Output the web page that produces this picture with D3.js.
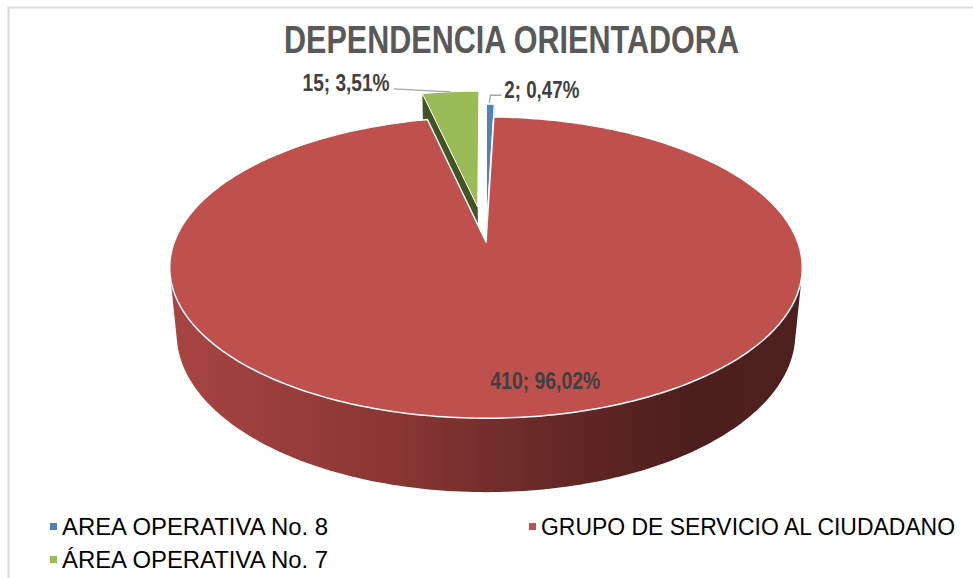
<!DOCTYPE html>
<html lang="es">
<head>
<meta charset="UTF-8">
<title>Dependencia orientadora</title>
<script src="https://d3js.org/d3.v7.min.js"></script>
<style>
  body { margin: 0; background: #fff; }
  text { font-family: "Liberation Sans Narrow", "Arial Narrow", "Liberation Sans", sans-serif; }
</style>
</head>
<body>
<svg id="chart" width="973" height="578"></svg>
<script>
  // data
  const categories = ["AREA OPERATIVA No. 8", "GRUPO DE SERVICIO AL CIUDADANO", "ÁREA OPERATIVA No. 7"];
  const values = [2, 410, 15];
  const colors = ["#4F81BD", "#C0504D", "#9BBB59"];
  const wallColors = ["#2d4f78", "#7a2e2d", "#435323"];
  const explode = [0.12, 0, 0.25];

  const svg = d3.select('#chart');

  // frame
  svg.append('rect')
    .attr('x', 8.5).attr('y', 7.5)
    .attr('width', 1100).attr('height', 1100)
    .attr('fill', 'none')
    .attr('stroke', '#d9d9d9')
    .attr('stroke-width', 2);

  svg.append('text')
    .attr('x', 284).attr('y', 53)
    .attr('textLength', 455).attr('lengthAdjust', 'spacingAndGlyphs')
    .style('font-size', '39px').style('font-weight', 'bold')
    .attr('fill', '#595959')
    .text('DEPENDENCIA ORIENTADORA');

  // perspective camera for the 3d pie
  const cx = 486, cy = 242;
  const focal = 1624, dist = 5.21, depth = 0.243;
  const tilt = 28 * Math.PI / 180;
  const s = Math.sin(tilt), c = Math.cos(tilt);

  function project(X, Z, Y) {
    const yc = Z * s + Y * c;
    const dc = dist + Z * c - Y * s;
    return [cx + focal * X / dc, cy - focal * yc / dc];
  }

  const pie = d3.pie().sort(null).value(d => d);
  const arcs = pie(values);
  const total = d3.sum(values);
  const pct = d3.format('.2%');

  function offsetOf(i) {
    const a = arcs[i];
    const mid = (a.startAngle + a.endAngle) / 2;
    return [explode[i] * Math.sin(mid), explode[i] * Math.cos(mid)];
  }
  function pt(i, ang, r, Y) {
    const o = offsetOf(i);
    return project(o[0] + r * Math.sin(ang), o[1] + r * Math.cos(ang), Y);
  }
  function arcPoints(i, a0, a1, Y) {
    const n = Math.max(2, Math.ceil(Math.abs(a1 - a0) / (Math.PI / 180)));
    return d3.range(n + 1).map(k => pt(i, a0 + (a1 - a0) * k / n, 1, Y));
  }
  const line = d3.line();

  const defs = svg.append('defs');
  const grad = defs.append('linearGradient')
    .attr('id', 'sideGrad')
    .attr('gradientUnits', 'userSpaceOnUse')
    .attr('x1', 170).attr('x2', 802).attr('y1', 0).attr('y2', 0);
  [[0, '#a84543'], [0.35, '#8a3634'], [0.6, '#672927'], [0.82, '#4c1e1e'], [1, '#4f2020']]
    .forEach(st => grad.append('stop').attr('offset', st[0]).attr('stop-color', st[1]));

  const g = svg.append('g');

  // back slices first (blue and green), red last
  [2, 0].forEach(i => {
    const a = arcs[i];
    // visible radial wall
    const wallAng = i === 2 ? a.startAngle : a.endAngle;
    const wall = [pt(i, 0, 0, 0), pt(i, wallAng, 1, 0), pt(i, wallAng, 1, -depth), pt(i, 0, 0, -depth)];
    g.append('path')
      .attr('d', line(wall) + 'Z')
      .attr('fill', wallColors[i]);
    const top = [pt(i, 0, 0, 0)].concat(arcPoints(i, a.startAngle, a.endAngle, 0));
    g.append('path')
      .attr('d', line(top) + 'Z')
      .attr('fill', colors[i])
      .attr('stroke', '#fff').attr('stroke-width', 1);
  });

  // red slice: outer side (front half) then top
  const red = arcs[1];
  const front0 = Math.max(red.startAngle, Math.PI / 2);
  const front1 = Math.min(red.endAngle, Math.PI * 1.5);
  const sidePts = arcPoints(1, front0, front1, 0).concat(arcPoints(1, front0, front1, -depth));
  const hull = d3.polygonHull(sidePts);
  g.append('path')
    .attr('d', line(hull) + 'Z')
    .attr('fill', 'url(#sideGrad)');

  const redTop = [pt(1, 0, 0, 0)].concat(arcPoints(1, red.startAngle, red.endAngle, 0));
  g.append('path')
    .attr('d', line(redTop) + 'Z')
    .attr('fill', colors[1])
    .attr('stroke', '#fff').attr('stroke-width', 1.5)
    .attr('stroke-linejoin', 'round');

  // data labels
  const labelText = i => values[i] + '; ' + pct(values[i] / total).replace('.', ',');
  const labelStyle = sel => sel
    .style('font-size', '23px').style('font-weight', 'bold')
    .attr('fill', '#404040');

  // green label with leader
  {
    const i = 2, a = arcs[i];
    const p = pt(i, (a.startAngle + a.endAngle) / 2, 1, 0);
    g.append('path')
      .attr('d', line([p, [p[0] - 57, p[1] - 3]]))
      .attr('fill', 'none').attr('stroke', '#a6a6a6').attr('stroke-width', 1.3);
    g.append('text')
      .attr('x', p[0] - 61).attr('y', p[1] - 1)
      .attr('text-anchor', 'end')
      .attr('textLength', 87).attr('lengthAdjust', 'spacingAndGlyphs')
      .call(labelStyle)
      .text(labelText(i));
  }
  // blue label with leader
  {
    const i = 0, a = arcs[i];
    const p = pt(i, (a.startAngle + a.endAngle) / 2, 1, 0);
    g.append('path')
      .attr('d', line([[p[0] - 1, p[1] - 1], [p[0], p[1] - 9], [p[0] + 11, p[1] - 9]]))
      .attr('fill', 'none').attr('stroke', '#a6a6a6').attr('stroke-width', 1.3);
    g.append('text')
      .attr('x', p[0] + 14).attr('y', p[1] - 6)
      .attr('textLength', 75).attr('lengthAdjust', 'spacingAndGlyphs')
      .call(labelStyle)
      .text(labelText(i));
  }
  // red label inside
  {
    const i = 1, a = arcs[i];
    const p = pt(i, (a.startAngle + a.endAngle) / 2, 0.82, 0);
    g.append('text')
      .attr('x', p[0] + 31).attr('y', p[1] + 8)
      .attr('text-anchor', 'middle')
      .attr('textLength', 110).attr('lengthAdjust', 'spacingAndGlyphs')
      .call(labelStyle)
      .text(labelText(i));
  }

  // legend
  const legendPos = [[50, 535, 266], [529, 535, 414], [50, 568, 266]];
  const legend = svg.append('g');
  categories.forEach((name, i) => {
    const [lx, ly, tw] = legendPos[i];
    legend.append('rect')
      .attr('x', lx).attr('y', ly - 12)
      .attr('width', 7).attr('height', 7)
      .attr('fill', colors[i]);
    legend.append('text')
      .attr('x', lx + 12).attr('y', ly)
      .attr('textLength', tw).attr('lengthAdjust', 'spacingAndGlyphs')
      .style('font-size', '23px')
      .attr('fill', '#000')
      .text(name);
  });
</script>
</body>
</html>
